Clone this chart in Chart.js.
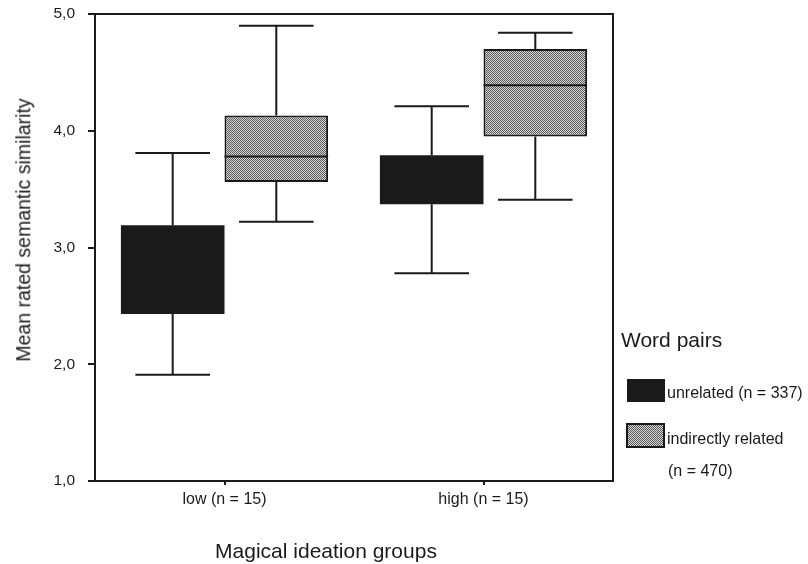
<!DOCTYPE html>
<html>
<head>
<meta charset="utf-8">
<script src="https://cdn.jsdelivr.net/npm/chart.js@4"></script>
<style>
  html, body { margin: 0; padding: 0; background: #fff; }
  #wrap { position: relative; width: 808px; height: 564px; font-family: Arial, 'Liberation Sans', sans-serif; color: #1a1a1a; }
  #wrap canvas { position: absolute; left: 0; top: 0; }
  .txt { position: absolute; white-space: nowrap; line-height: 1; }
  .sw { position: absolute; box-sizing: border-box; }
  .stipple { background: repeating-conic-gradient(#5a5a5a 0 25%, #d6d6d6 0 50%) 0 0 / 2px 2px; border: 2px solid #1a1a1a; }
</style>
</head>
<body>
<div id="wrap">
  <canvas id="chart" width="808" height="564"></canvas>
  <div class="txt" style="left:24px;top:230px;font-size:19.5px;transform:translate(-50%,-50%) rotate(-90deg);">Mean rated semantic similarity</div>
  <div class="txt" style="left:326px;top:550px;font-size:21px;transform:translate(-50%,-50%);">Magical ideation groups</div>
  <div class="txt" style="left:621px;top:339px;font-size:21px;transform:translateY(-50%);">Word pairs</div>
  <div class="sw" style="left:627px;top:379px;width:38px;height:23px;background:#1a1a1a;"></div>
  <div class="txt" style="left:667px;top:393px;font-size:16px;transform:translateY(-50%);">unrelated (n = 337)</div>
  <div class="sw stipple" style="left:626px;top:423px;width:39px;height:25px;"></div>
  <div class="txt" style="left:667px;top:439px;font-size:16px;transform:translateY(-50%);">indirectly related</div>
  <div class="txt" style="left:668px;top:471px;font-size:16px;transform:translateY(-50%);">(n = 470)</div>
</div>
<script>
// groups and box-plot values
const groups = ['low (n = 15)', 'high (n = 15)'];
const seriesNames = ['unrelated (n = 337)', 'indirectly related (n = 470)'];

const unrelatedMin = [1.91, 2.78];
const unrelatedQ1 = [2.43, 3.37];
const unrelatedMedian = [2.80, 3.60];
const unrelatedQ3 = [3.19, 3.79];
const unrelatedMax = [3.81, 4.21];

const indirectMin = [3.22, 3.41];
const indirectQ1 = [3.56, 3.95];
const indirectMedian = [3.78, 4.39];
const indirectQ3 = [4.13, 4.70];
const indirectMax = [4.90, 4.84];

const yTicks = [1, 2, 3, 4, 5];

const ink = '#1a1a1a';

// fine grey stipple like the printed halftone
function stipple() {
  const c = document.createElement('canvas');
  c.width = 2; c.height = 2;
  const g = c.getContext('2d');
  g.fillStyle = '#d6d6d6'; g.fillRect(0, 0, 2, 2);
  g.fillStyle = '#5a5a5a'; g.fillRect(0, 0, 1, 1); g.fillRect(1, 1, 1, 1);
  return g.createPattern(c, 'repeat');
}

const stats = [
  { min: unrelatedMin, med: unrelatedMedian, max: unrelatedMax },
  { min: indirectMin, med: indirectMedian, max: indirectMax },
];

// whiskers, medians and the frame round the plot
const boxExtras = {
  id: 'boxExtras',
  afterDatasetsDraw(chart) {
    const { ctx, chartArea: a, scales: { y } } = chart;
    ctx.save();
    ctx.strokeStyle = ink;
    ctx.lineWidth = 2;
    chart.data.datasets.forEach((ds, i) => {
      const s = stats[i];
      chart.getDatasetMeta(i).data.forEach((bar, j) => {
        const x = bar.x, w = bar.width, cap = w * 0.72;
        const lo = y.getPixelForValue(ds.data[j][0]);
        const hi = y.getPixelForValue(ds.data[j][1]);
        const pMin = y.getPixelForValue(s.min[j]);
        const pMax = y.getPixelForValue(s.max[j]);
        const pMed = y.getPixelForValue(s.med[j]);
        ctx.beginPath();
        ctx.moveTo(x, hi); ctx.lineTo(x, pMax);
        ctx.moveTo(x - cap / 2, pMax); ctx.lineTo(x + cap / 2, pMax);
        ctx.moveTo(x, lo); ctx.lineTo(x, pMin);
        ctx.moveTo(x - cap / 2, pMin); ctx.lineTo(x + cap / 2, pMin);
        // median is black on black for the filled boxes, so only stroke it on the stippled ones
        if (ds.borderWidth) { ctx.moveTo(x - w / 2, pMed); ctx.lineTo(x + w / 2, pMed); }
        ctx.stroke();
      });
    });
    ctx.strokeRect(a.left, a.top, a.right - a.left, a.bottom - a.top);
    ctx.restore();
  }
};

new Chart(document.getElementById('chart'), {
  type: 'bar',
  data: {
    labels: groups,
    datasets: [
      {
        label: seriesNames[0],
        data: unrelatedQ1.map((v, i) => [v, unrelatedQ3[i]]),
        backgroundColor: ink,
        borderColor: ink,
        borderWidth: 0,
        borderSkipped: false,
      },
      {
        label: seriesNames[1],
        data: indirectQ1.map((v, i) => [v, indirectQ3[i]]),
        backgroundColor: stipple(),
        borderColor: ink,
        borderWidth: 2,
        borderSkipped: false,
      },
    ],
  },
  options: {
    responsive: false,
    animation: false,
    devicePixelRatio: 1,
    categoryPercentage: 0.8,
    barPercentage: 1.0,
    layout: { padding: { left: 0, top: 14, right: 195, bottom: 0 } },
    plugins: { legend: { display: false }, tooltip: { enabled: false } },
    scales: {
      x: {
        afterFit: s => { s.height = 83; s.paddingLeft = 0; s.paddingRight = 0; },
        grid: { offset: false, drawOnChartArea: false, drawTicks: true, tickLength: 4, color: ink, lineWidth: 2 },
        border: { display: false },
        ticks: { color: ink, padding: 5, font: { family: "Arial, 'Liberation Sans', sans-serif", size: 16 } },
      },
      y: {
        min: 1,
        max: 5,
        afterFit: s => { s.width = 95; s.paddingTop = 0; s.paddingBottom = 0; },
        afterBuildTicks: s => { s.ticks = yTicks.map(v => ({ value: v })); },
        grid: { drawOnChartArea: false, drawTicks: true, tickLength: 7, color: ink, lineWidth: 2 },
        border: { display: false },
        ticks: {
          color: ink,
          padding: 13,
          font: { family: "Arial, 'Liberation Sans', sans-serif", size: 15.5 },
          callback: v => v.toFixed(1).replace('.', ','),
        },
      },
    },
  },
  plugins: [boxExtras],
});
</script>
</body>
</html>
